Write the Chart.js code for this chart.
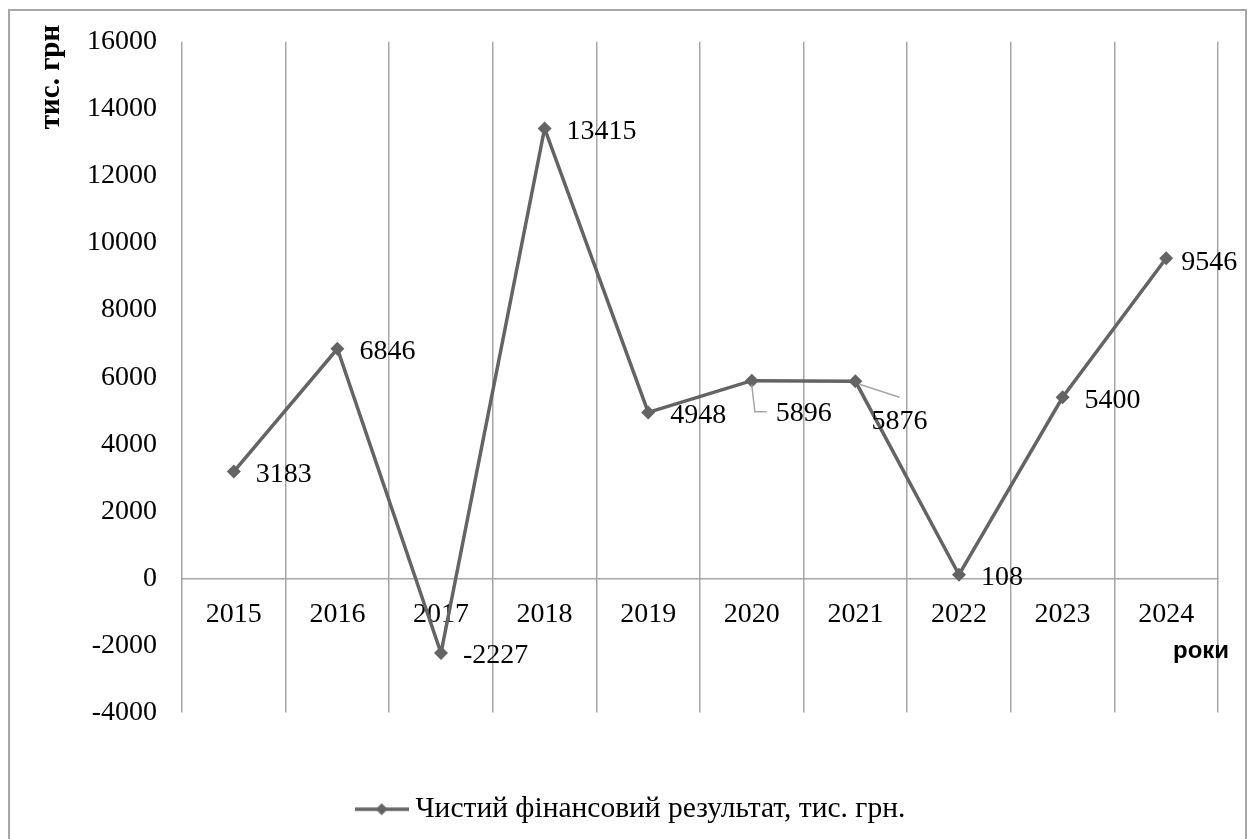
<!DOCTYPE html>
<html lang="uk">
<head>
<meta charset="utf-8">
<title>Чистий фінансовий результат</title>
<script src="https://cdn.jsdelivr.net/npm/chart.js@4.4.1/dist/chart.umd.min.js"></script>
<style>
  html, body { margin: 0; padding: 0; background: #fff; }
  #ramka { position: absolute; left: 8px; top: 9px; width: 1239px; height: 860px; border: 2px solid #a6a6a6; box-sizing: border-box; }
  #obgortka { position: absolute; left: 0; top: 0; width: 1252px; height: 839px; }
</style>
</head>
<body>
<div id="ramka"></div>
<div id="obgortka"><canvas id="grafik"></canvas></div>
<script>
// Дані графіка
const roky = ['2015', '2016', '2017', '2018', '2019', '2020', '2021', '2022', '2023', '2024'];
const rezultat = [3183, 6846, -2227, 13415, 4948, 5896, 5876, 108, 5400, 9546];
const podilkyY = [-4000, -2000, 0, 2000, 4000, 6000, 8000, 10000, 12000, 14000, 16000];
const nazvaRyadu = 'Чистий фінансовий результат, тис. грн.';
const pidpysOsiY = 'тис. грн';
const pidpysOsiX = 'роки';

const SERIF = '"Liberation Serif", "Times New Roman", serif';
const SANS = '"Liberation Sans", Arial, sans-serif';
const KOLIR_LINII = '#646464';
const KOLIR_SITKY = '#a6a6a6';

// зсуви підписів значень відносно точки (за замовчуванням праворуч)
const zsuvy = { 5: [24, 33], 6: [16, 40], 9: [15, 4] };

// значок легенди: лінія з ромбом посередині
function znachokLegendy() {
    const c = document.createElement('canvas');
    c.width = 54;
    c.height = 16;
    const g = c.getContext('2d');
    g.strokeStyle = KOLIR_LINII;
    g.lineWidth = 3.5;
    g.beginPath();
    g.moveTo(0, 8);
    g.lineTo(54, 8);
    g.stroke();
    g.fillStyle = KOLIR_LINII;
    g.beginPath();
    g.moveTo(27, 2);
    g.lineTo(33, 8);
    g.lineTo(27, 14);
    g.lineTo(21, 8);
    g.closePath();
    g.fill();
    return c;
}

// підписи значень біля точок, з виносками для 2020 і 2021
const pidpysyTochok = {
    id: 'pidpysyTochok',
    afterDatasetsDraw(chart) {
        const ctx = chart.ctx;
        const meta = chart.getDatasetMeta(0);
        ctx.save();
        ctx.strokeStyle = KOLIR_SITKY;
        ctx.lineWidth = 1.5;
        meta.data.forEach((pt, i) => {
            if (i === 5) {
                ctx.beginPath();
                ctx.moveTo(pt.x, pt.y + 4);
                ctx.lineTo(pt.x + 3, pt.y + 31);
                ctx.lineTo(pt.x + 15, pt.y + 31);
                ctx.stroke();
            }
            if (i === 6) {
                ctx.beginPath();
                ctx.moveTo(pt.x + 4, pt.y + 3);
                ctx.lineTo(pt.x + 44, pt.y + 16);
                ctx.stroke();
            }
        });
        ctx.font = '28px ' + SERIF;
        ctx.fillStyle = '#000';
        ctx.textAlign = 'left';
        ctx.textBaseline = 'middle';
        meta.data.forEach((pt, i) => {
            const [dx, dy] = zsuvy[i] || [22, 3];
            ctx.fillText(String(rezultat[i]), pt.x + dx, pt.y + dy);
        });
        ctx.restore();
    }
};

// назви осей
const nazvyOsei = {
    id: 'nazvyOsei',
    afterDraw(chart) {
        const ctx = chart.ctx;
        const area = chart.chartArea;
        const nul = chart.scales.y.getPixelForValue(0);
        ctx.save();
        ctx.fillStyle = '#000';
        ctx.font = 'bold 29px ' + SERIF;
        ctx.translate(area.left - 130, area.top - 17);
        ctx.rotate(-Math.PI / 2);
        ctx.textAlign = 'right';
        ctx.textBaseline = 'middle';
        ctx.fillText(pidpysOsiY, 0, 0);
        ctx.restore();

        ctx.save();
        ctx.fillStyle = '#000';
        ctx.font = 'bold 24px ' + SANS;
        ctx.textAlign = 'left';
        ctx.textBaseline = 'middle';
        ctx.fillText(pidpysOsiX, area.right - 45, nul + 73);
        ctx.restore();
    }
};

new Chart(document.getElementById('grafik'), {
    type: 'line',
    data: {
        labels: roky,
        datasets: [{
            label: nazvaRyadu,
            data: rezultat,
            borderColor: KOLIR_LINII,
            backgroundColor: KOLIR_LINII,
            borderWidth: 3.5,
            tension: 0,
            pointStyle: 'rectRot',
            pointRadius: 7,
            pointBackgroundColor: KOLIR_LINII,
            pointBorderColor: KOLIR_LINII,
            pointBorderWidth: 0
        }]
    },
    options: {
        responsive: true,
        maintainAspectRatio: false,
        animation: false,
        layout: {
            padding: { left: 50, top: 38, right: 34, bottom: 5 }
        },
        plugins: {
            tooltip: { enabled: false },
            legend: {
                position: 'bottom',
                labels: {
                    usePointStyle: true,
                    pointStyleWidth: 38,
                    padding: 82,
                    color: '#000',
                    font: { family: SERIF, size: 29.5 },
                    generateLabels: () => [{
                        text: nazvaRyadu,
                        pointStyle: znachokLegendy(),
                        fillStyle: KOLIR_LINII,
                        strokeStyle: KOLIR_LINII,
                        lineWidth: 0,
                        hidden: false,
                        datasetIndex: 0
                    }]
                }
            }
        },
        scales: {
            x: {
                type: 'category',
                position: { y: 0 },
                offset: true,
                grid: {
                    offset: true,
                    color: KOLIR_SITKY,
                    lineWidth: 1.5,
                    drawTicks: false
                },
                border: { display: true, color: KOLIR_SITKY, width: 1.5 },
                ticks: {
                    color: '#000',
                    font: { family: SERIF, size: 28 },
                    padding: 19,
                    maxRotation: 0,
                    autoSkip: false
                },
                afterFit(scale) { scale.height = 0; }
            },
            y: {
                min: podilkyY[0],
                max: podilkyY[podilkyY.length - 1],
                grid: { display: false, drawTicks: false },
                border: { display: false },
                ticks: {
                    color: '#000',
                    font: { family: SERIF, size: 28 },
                    padding: 25,
                    callback: v => String(v)
                },
                afterBuildTicks(scale) {
                    scale.ticks = podilkyY.map(v => ({ value: v }));
                },
                afterFit(scale) { scale.width = 132; }
            }
        }
    },
    plugins: [pidpysyTochok, nazvyOsei]
});
</script>
</body>
</html>
